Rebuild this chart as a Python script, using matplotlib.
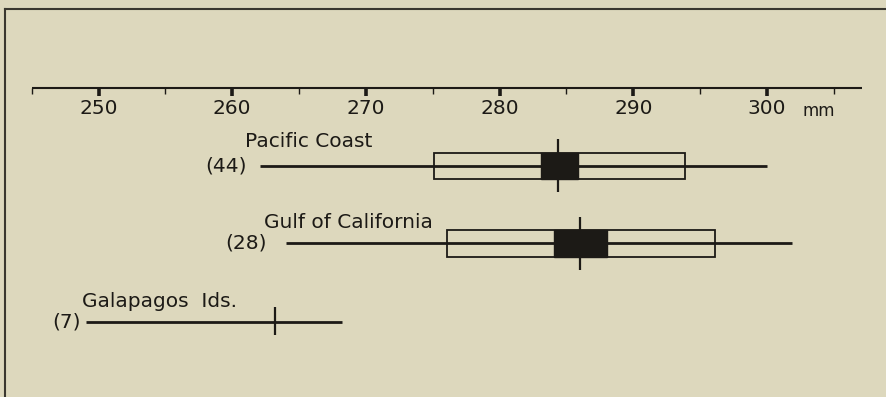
import matplotlib
matplotlib.use('Agg')
import matplotlib.pyplot as plt
from matplotlib.patches import Rectangle
from matplotlib.lines import Line2D

# ─── data (mm) ────────────────────────────────────────────────────────────
groups     = ["Pacific Coast", "Gulf of California", "Galapagos  Ids."]
sample_n   = [44, 28, 7]
range_lo   = [262.1, 264.0, 249.1]
range_hi   = [300.0, 301.9, 268.2]
means      = [284.4, 286.0, 263.2]
sd_lo      = [275.1, 276.1, None]
sd_hi      = [293.9, 296.1, None]
se_lo      = [283.1, 284.1, None]
se_hi      = [285.9, 288.0, None]

major_ticks = [250, 260, 270, 280, 290, 300]
minor_ticks = [245, 255, 265, 275, 285, 295, 305]
scale_lo, scale_hi = 245, 307.1

# ─── layout (pixel rows) ──────────────────────────────────────────────────
BG = "#ddd8bd"
INK = "#1c1a16"
W, H = 886, 397
PX_PER_MM = 13.37
X0_MM = 250 - 98.5 / PX_PER_MM
row_y = [166, 243.3, 321.7]
box_h = 26.6
mean_tick = [(139, 192), (217, 270), (307, 335)]
name_off = [(-15, 19), (-22, 15.6), (-4, 14.4)]
n_off = [-14, -19, -6]
SCALE_Y = 88
FS = 14.5

plt.rcParams['font.family'] = ['DejaVu Sans']

fig = plt.figure(figsize=(W / 100, H / 100), dpi=100, facecolor=BG)
ax = fig.add_axes([0, 0, 1, 1])
ax.set_facecolor(BG)
ax.set_xlim(X0_MM, X0_MM + W / PX_PER_MM)
ax.set_ylim(H, 0)
ax.axis('off')

# frame lines (top and left)
fig.add_artist(Line2D([5 / W, 1], [1 - 9 / H] * 2, color="#3a372f", lw=1.5))
fig.add_artist(Line2D([5 / W] * 2, [0, 1 - 9 / H], color="#3a372f", lw=1.5))

# scale
ax.hlines(SCALE_Y, scale_lo, scale_hi, color=INK, lw=1.5)
ax.vlines(major_ticks, SCALE_Y, SCALE_Y + 8, color=INK, lw=2.6)
ax.vlines(minor_ticks, SCALE_Y, SCALE_Y + 6, color=INK, lw=1.0)
for t in major_ticks:
    ax.text(t, 109, str(t), ha='center', va='center', fontsize=FS, color=INK)
ax.annotate("mm", (major_ticks[-1], 116), xytext=(36, 0), textcoords='offset pixels',
            ha='left', va='baseline', fontsize=12, color=INK)

# groups
for i, g in enumerate(groups):
    y = row_y[i]
    if sd_lo[i] is not None:
        ax.add_patch(Rectangle((sd_lo[i], y - box_h / 2), sd_hi[i] - sd_lo[i], box_h,
                               facecolor=BG, edgecolor=INK, lw=1.3, zorder=2))
    ax.hlines(y, range_lo[i], range_hi[i], color=INK, lw=2.0, zorder=3)
    if se_lo[i] is not None:
        ax.add_patch(Rectangle((se_lo[i], y - box_h / 2), se_hi[i] - se_lo[i], box_h,
                               facecolor=INK, edgecolor=INK, lw=1.0, zorder=4))
    ax.vlines(means[i], mean_tick[i][0], mean_tick[i][1], color=INK, lw=1.6, zorder=5)
    ax.annotate(g, (range_lo[i], y), xytext=(name_off[i][0], name_off[i][1]),
                textcoords='offset pixels', ha='left', va='baseline',
                fontsize=FS, color=INK)
    ax.annotate(f"({sample_n[i]})", (range_lo[i], y), xytext=(n_off[i], 0),
                textcoords='offset pixels', ha='right', va='center',
                fontsize=FS, color=INK)

fig.savefig("out.png", dpi=100, facecolor=BG)
